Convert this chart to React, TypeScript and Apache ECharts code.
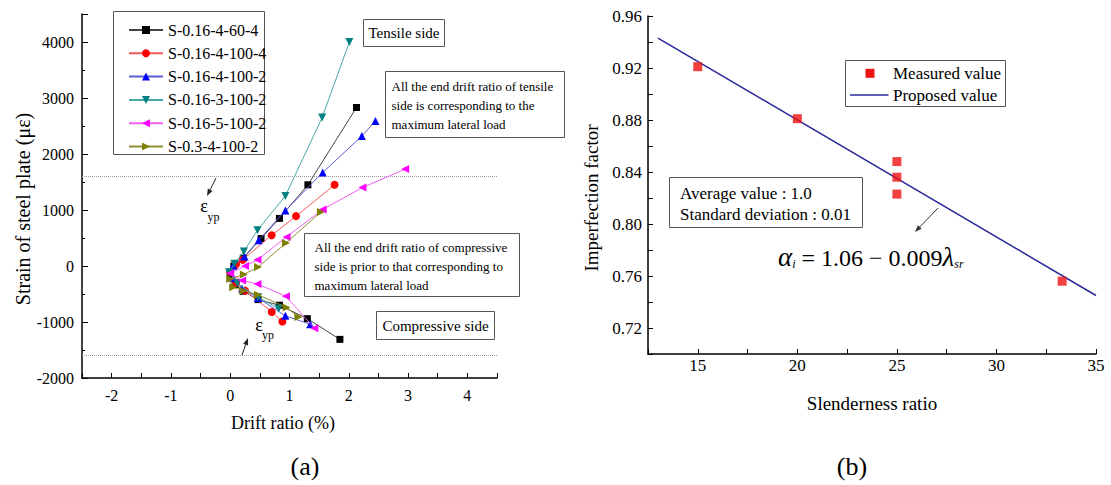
import React, { useEffect, useRef } from "react";
import * as echarts from "echarts";

const FONT = "'Liberation Serif', 'Times New Roman', Times, serif";

// ---------- Panel (a) data ----------
const specimenNames = [
  "S-0.16-4-60-4",
  "S-0.16-4-100-4",
  "S-0.16-4-100-2",
  "S-0.16-3-100-2",
  "S-0.16-5-100-2",
  "S-0.3-4-100-2",
];
const specimenColors = ["#000000", "#ff0000", "#0000ff", "#008080", "#ff00ff", "#808000"];
const specimenLineColors = ["#444444", "#f05a5a", "#5c5cd6", "#4aa8a8", "#f060f0", "#8e8e30"];
const specimenSymbols = ["rect", "circle", "triangle", "triangle", "triangle", "triangle"];
const specimenRotations = [0, 0, 0, 180, 90, -90];

// drift ratio (%), strain (με): compressive end -> apex -> tensile end
const s1: number[][] = [[1.85, -1310], [1.30, -940], [0.83, -700], [0.47, -600], [0.22, -450], [0.08, -330], [0.0, -150], [0.06, 0], [0.22, 140], [0.52, 490], [0.83, 850], [1.31, 1450], [2.13, 2830]];
const s2: number[][] = [[0.88, -990], [0.70, -820], [0.25, -440], [0.10, -300], [0.0, -110], [0.10, 30], [0.21, 110], [0.70, 550], [1.11, 890], [1.76, 1450]];
const s3: number[][] = [[1.35, -1040], [0.93, -890], [0.47, -570], [0.20, -400], [0.05, -220], [0.05, 10], [0.24, 170], [0.48, 460], [0.93, 990], [1.56, 1670], [2.22, 2320], [2.45, 2590]];
const s4: number[][] = [[0.82, -760], [0.47, -560], [0.12, -310], [-0.02, -110], [0.07, 40], [0.23, 260], [0.46, 640], [0.93, 1250], [1.55, 2650], [2.01, 4000]];
const s5: number[][] = [[1.42, -1110], [0.94, -540], [0.46, -320], [0.20, -260], [0.0, -130], [0.25, 0], [0.46, 110], [0.95, 520], [1.56, 1010], [2.23, 1400], [2.95, 1730]];
const s6: number[][] = [[1.15, -910], [0.95, -740], [0.47, -515], [0.22, -440], [0.05, -380], [0.0, -230], [0.23, -150], [0.47, -20], [0.94, 410], [1.53, 965]];
const specimenData = [s1, s2, s3, s4, s5, s6];
const yieldStrain = [1600, -1600];

// ---------- Panel (b) data ----------
const measuredX = [15, 20, 25, 25, 25, 33.3];
const measuredY = [0.921, 0.881, 0.848, 0.836, 0.823, 0.756];
const proposedX = [13, 35];
const proposedY = [0.943, 0.745];

function arrow(x1: number, y1: number, x2: number, y2: number, color: string) {
  const dx = x2 - x1, dy = y2 - y1;
  const L = Math.hypot(dx, dy);
  const ux = dx / L, uy = dy / L;
  const hl = 7, hw = 2.6;
  const bx = x2 - ux * hl, by = y2 - uy * hl;
  return [
    { type: "line", shape: { x1, y1, x2: bx, y2: by }, style: { stroke: color, lineWidth: 1 } },
    {
      type: "polygon",
      shape: { points: [[x2, y2], [bx - uy * hw, by + ux * hw], [bx + uy * hw, by - ux * hw]] },
      style: { fill: color },
    },
  ];
}

function txt(text: string, x: number, y: number, size: number, opts: any = {}) {
  const align = opts.align || "left";
  const va = opts.va || "middle";
  return {
    type: "text",
    x,
    y,
    rotation: opts.rotation || 0,
    z: 10,
    style: {
      text,
      x: 0,
      y: 0,
      fill: "#000",
      fontSize: size,
      fontFamily: FONT,
      fontStyle: opts.italic ? "italic" : "normal",
      align,
      verticalAlign: va,
      textAlign: align,
      textVerticalAlign: va,
    },
  };
}

function box(x: number, y: number, w: number, h: number, stroke = "#555") {
  return {
    type: "rect",
    z: 5,
    shape: { x, y, width: w, height: h },
    style: { fill: "#fff", stroke, lineWidth: 1 },
  };
}

const axisCommon = {
  axisLine: { show: true, onZero: false, lineStyle: { color: "#000", width: 1.5 } },
  axisTick: { show: true, inside: true, length: 5, lineStyle: { color: "#000", width: 1 } },
  splitLine: { show: false },
};

export default function App() {
  const ref = useRef<HTMLDivElement>(null);

  useEffect(() => {
    if (!ref.current) return;
    const chart = echarts.init(ref.current, undefined, { renderer: "svg" });

    const leftSeries = specimenNames.map((name, i) => ({
      name,
      type: "line",
      xAxisIndex: 0,
      yAxisIndex: 0,
      data: specimenData[i],
      symbol: specimenSymbols[i],
      symbolSize: specimenSymbols[i] === "rect" ? 7 : 8,
      symbolRotate: specimenRotations[i],
      itemStyle: { color: specimenColors[i] },
      lineStyle: { color: specimenLineColors[i], width: 1 },
      z: 3 + i,
      markLine:
        i === 0
          ? {
              silent: true,
              symbol: "none",
              label: { show: false },
              lineStyle: { type: "dotted", color: "#9a9a9a", width: 1 },
              data: yieldStrain.map((v) => ({ yAxis: v })),
            }
          : undefined,
    }));

    const graphics: any[] = [
      // legend frame (a)
      { type: "rect", z: 1, shape: { x: 113.5, y: 11.5, width: 151, height: 143 }, style: { fill: "none", stroke: "#555", lineWidth: 1 } },
      // Tensile side
      box(363.5, 19.5, 81, 27),
      txt("Tensile side", 404, 33, 15, { align: "center" }),
      // tensile annotation
      box(385.5, 71.5, 179, 66),
      txt("All the end drift ratio of tensile", 391.5, 86, 13),
      txt("side is corresponding to the", 391.5, 105, 13),
      txt("maximum lateral load", 391.5, 124, 13),
      // compressive annotation
      box(304.5, 233.5, 215, 63),
      txt("All the end drift ratio of compressive", 314.5, 247.5, 13),
      txt("side is prior to that corresponding to", 314.5, 266.5, 13),
      txt("maximum lateral load", 314.5, 285.5, 13),
      // Compressive side
      box(376.5, 311.5, 118, 28),
      txt("Compressive side", 435.5, 325.5, 15, { align: "center" }),
      // eps_yp labels
      txt("ε", 204, 206, 18, { align: "center" }),
      txt("yp", 213.5, 217, 12, { align: "center" }),
      ...arrow(216, 178, 207, 196, "#222"),
      txt("ε", 259, 325, 18, { align: "center" }),
      txt("yp", 268, 335, 12, { align: "center" }),
      ...arrow(242, 355, 248, 338, "#222"),
      // axis titles (a)
      txt("Strain of steel plate (με)", 23, 209, 20, { align: "center", rotation: Math.PI / 2 }),
      txt("Drift ratio (%)", 283, 423, 18, { align: "center" }),
      txt("(a)", 305, 466, 26, { align: "center" }),

      // legend (b)
      box(845.5, 60.5, 160, 46),
      { type: "rect", z: 11, shape: { x: 865.5, y: 68.8, width: 9, height: 9 }, style: { fill: "#ee1111" } },
      { type: "line", z: 11, shape: { x1: 850, y1: 95, x2: 888.5, y2: 95 }, style: { stroke: "#2a2a9a", lineWidth: 1.5 } },
      txt("Measured value", 893, 73.5, 17),
      txt("Proposed value", 893, 95, 17),
      // statistics box
      box(669.5, 177.5, 193, 50),
      txt("Average value : 1.0", 680, 193, 17),
      txt("Standard deviation : 0.01", 680, 214, 17),
      ...arrow(938, 208, 915, 232, "#333"),
      // formula
      {
        type: "text",
        x: 778,
        y: 270,
        z: 10,
        style: {
          text: "{a|α}{s|i}{n| = 1.06 − 0.009}{a|λ}{s|sr}",
          x: 0,
          y: 0,
          align: "left",
          verticalAlign: "bottom",
          textAlign: "left",
          textVerticalAlign: "bottom",
          fill: "#000",
          rich: {
            a: { fontSize: 27, fontFamily: FONT, fontStyle: "italic", fill: "#000", lineHeight: 30, verticalAlign: "bottom" },
            n: { fontSize: 24, fontFamily: FONT, fill: "#000", lineHeight: 30, verticalAlign: "bottom" },
            s: { fontSize: 12, fontFamily: FONT, fontStyle: "italic", fill: "#000", lineHeight: 12, verticalAlign: "bottom" },
          },
        },
      },
      // axis titles (b)
      txt("Imperfection factor", 591, 198, 19, { align: "center", rotation: Math.PI / 2 }),
      txt("Slenderness ratio", 872, 403, 19, { align: "center" }),
      txt("(b)", 852, 466, 26, { align: "center" }),
    ];

    chart.setOption({
      animation: false,
      backgroundColor: "#ffffff",
      textStyle: { fontFamily: FONT },
      grid: [
        { left: 82, top: 14, width: 415, height: 364, containLabel: false },
        { left: 648, top: 16, width: 448, height: 338, containLabel: false },
      ],
      xAxis: [
        {
          gridIndex: 0,
          type: "value",
          min: -2.5,
          max: 4.5,
          interval: 0.5,
          ...axisCommon,
          axisLabel: {
            color: "#000",
            fontSize: 16,
            fontFamily: FONT,
            margin: 9,
            formatter: (v: number) => (Math.abs(v - Math.round(v)) < 1e-9 ? String(Math.round(v)) : ""),
          },
        },
        {
          gridIndex: 1,
          type: "value",
          min: 12.5,
          max: 35,
          interval: 2.5,
          ...axisCommon,
          axisLabel: {
            color: "#000",
            fontSize: 17,
            fontFamily: FONT,
            margin: 3,
            formatter: (v: number) => (Math.abs(v % 5) < 1e-9 ? String(v) : ""),
          },
        },
      ],
      yAxis: [
        {
          gridIndex: 0,
          type: "value",
          min: -2000,
          max: 4500,
          interval: 1000,
          ...axisCommon,
          axisTick: { show: true, inside: true, length: 6, lineStyle: { color: "#000", width: 1 } },
          minorTick: { show: true, splitNumber: 2, length: 3, lineStyle: { color: "#000", width: 1 } },
          axisLabel: {
            color: "#000",
            fontSize: 16,
            fontFamily: FONT,
            margin: 8,
            formatter: (v: number) => (v % 1000 === 0 ? String(v) : ""),
          },
        },
        {
          gridIndex: 1,
          type: "value",
          min: 0.7,
          max: 0.96,
          interval: 0.02,
          ...axisCommon,
          axisLabel: {
            color: "#000",
            fontSize: 17,
            fontFamily: FONT,
            margin: 6,
            formatter: (v: number) => {
              const r = Math.round(v * 100);
              return r >= 72 && (r - 72) % 4 === 0 ? (r / 100).toFixed(2) : "";
            },
          },
        },
      ],
      legend: [
        {
          data: specimenNames,
          orient: "vertical",
          left: 123,
          top: 16,
          itemWidth: 34,
          itemHeight: 10,
          itemGap: 5.3,
          selectedMode: false,
          textStyle: { color: "#000", fontSize: 16, fontFamily: FONT, lineHeight: 18 },
        },
      ],
      series: [
        ...leftSeries,
        {
          name: "Proposed value",
          type: "line",
          xAxisIndex: 1,
          yAxisIndex: 1,
          data: proposedX.map((x, i) => [x, proposedY[i]]),
          symbol: "none",
          lineStyle: { color: "#2a2a9a", width: 1.5 },
          z: 2,
        },
        {
          name: "Measured value",
          type: "scatter",
          xAxisIndex: 1,
          yAxisIndex: 1,
          data: measuredX.map((x, i) => [x, measuredY[i]]),
          symbol: "rect",
          symbolSize: 9,
          itemStyle: { color: "#ee1111" },
          z: 3,
        },
      ],
      graphic: graphics,
    });

    return () => chart.dispose();
  }, []);

  return (
    <div
      ref={ref}
      style={{ position: "fixed", left: 0, top: 0, width: 1111, height: 485, background: "#fff" }}
    />
  );
}
